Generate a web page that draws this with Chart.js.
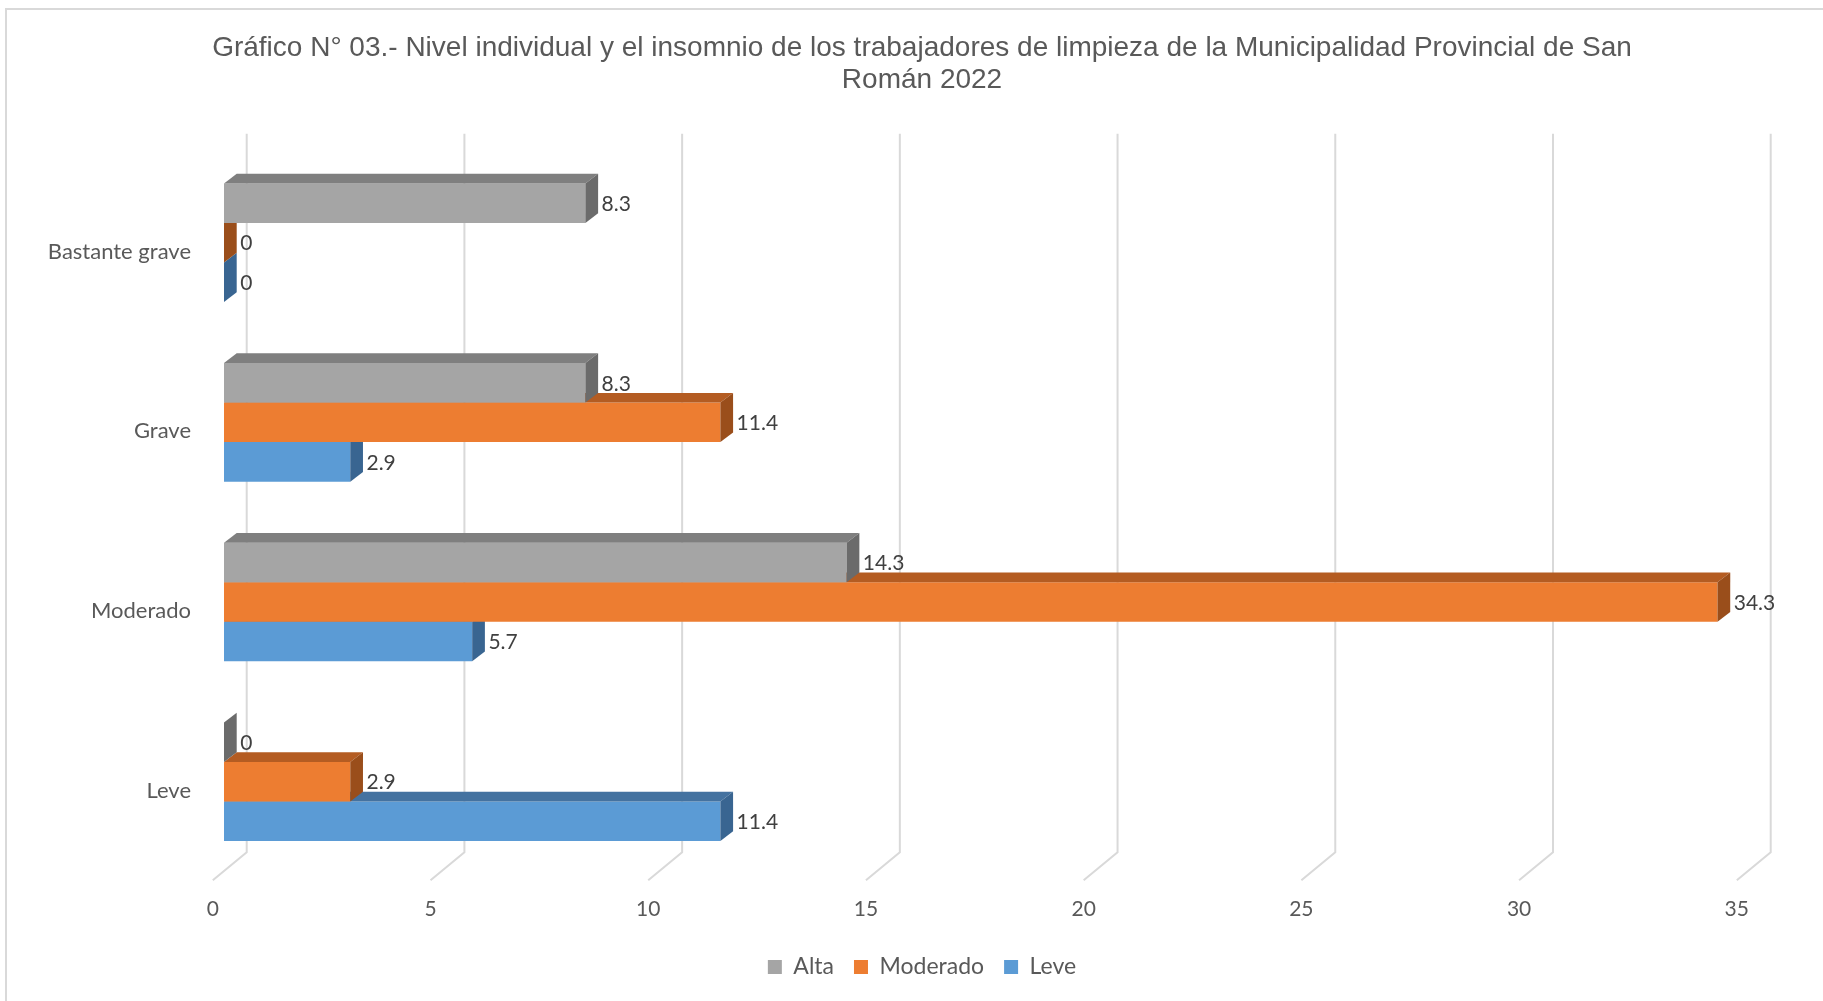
<!DOCTYPE html>
<html>
<head>
<meta charset="utf-8">
<title>Gráfico N° 03</title>
<script src="https://cdn.jsdelivr.net/npm/chart.js@4.4.1/dist/chart.umd.min.js"></script>
<style>
  html, body { margin: 0; padding: 0; background: #fff; }
  #wrap { position: relative; width: 1823px; height: 1001px; }
</style>
</head>
<body>
<div id="wrap"><canvas id="chart" width="1823" height="1001"></canvas></div>
<script>
// ---- data ----
const categories = ["Bastante grave", "Grave", "Moderado", "Leve"];
const seriesNames = ["Alta", "Moderado", "Leve"];
const alta = [8.3, 8.3, 14.3, 0];
const moderado = [0, 11.4, 34.3, 2.9];
const leve = [0, 2.9, 5.7, 11.4];
const xMin = 0, xMax = 35, xStep = 5;
const titleLines = [
  "Gráfico N° 03.- Nivel individual y el insomnio de los trabajadores de limpieza de la Municipalidad Provincial de San",
  "Román 2022"
];

// ---- look ----
const faces = [
  { front: "#a5a5a5", top: "#7f7f7f", side: "#6b6b6b" },
  { front: "#ed7d31", top: "#b45c22", side: "#9a4e1b" },
  { front: "#5b9bd5", top: "#4472a0", side: "#396591" }
];
const BAR_DX = 12.7, BAR_DY = 9.7;   // depth of each bar
const WALL_DX = 22.7;                // back wall, right of bar front
const FLOOR_DX = -11.2;              // front edge of floor, left of bar front
const labelFont = "Lato";
const textGray = "#595959";

Chart.defaults.font.family = labelFont;
Chart.defaults.color = textGray;

/* back wall grid + floor lines, drawn from the x scale ticks */
const wallPlugin = {
  id: "wall3d",
  beforeDraw(chart) {
    const ctx = chart.ctx;
    ctx.save();
    ctx.fillStyle = "#d9d9d9";
    ctx.fillRect(5, 8, chart.width - 5, 2);
    ctx.fillRect(5, 8, 2, chart.height - 8);
    ctx.restore();
  },
  beforeDatasetsDraw(chart) {
    const { ctx, chartArea, scales: { x } } = chart;
    ctx.save();
    ctx.strokeStyle = "#d9d9d9";
    ctx.lineWidth = 2;
    x.ticks.forEach(t => {
      const px = x.getPixelForValue(t.value);
      ctx.beginPath();
      ctx.moveTo(px + WALL_DX, chartArea.top - 19);
      ctx.lineTo(px + WALL_DX, chartArea.bottom - 19.3);
      ctx.lineTo(px + FLOOR_DX, chartArea.bottom + 8.7);
      ctx.stroke();
    });
    ctx.restore();
  }
};

/* top and side faces of every bar, plus the value labels */
const barPlugin = {
  id: "bar3d",
  afterDatasetDraw(chart, args) {
    const ctx = chart.ctx;
    const f = faces[args.index];
    args.meta.data.forEach(bar => {
      const { x, y, base, height } = bar.getProps(["x", "y", "base", "height"], true);
      const top = y - height / 2, bottom = y + height / 2;
      ctx.save();
      ctx.fillStyle = f.top;
      ctx.beginPath();
      ctx.moveTo(base, top);
      ctx.lineTo(base + BAR_DX, top - BAR_DY);
      ctx.lineTo(x + BAR_DX, top - BAR_DY);
      ctx.lineTo(x, top);
      ctx.closePath();
      ctx.fill();
      ctx.fillStyle = f.side;
      ctx.beginPath();
      ctx.moveTo(x, top);
      ctx.lineTo(x + BAR_DX, top - BAR_DY);
      ctx.lineTo(x + BAR_DX, bottom - BAR_DY);
      ctx.lineTo(x, bottom);
      ctx.closePath();
      ctx.fill();
      ctx.restore();
    });
  },
  afterDatasetsDraw(chart) {
    const ctx = chart.ctx;
    ctx.save();
    ctx.font = "21px " + labelFont;
    ctx.fillStyle = "#404040";
    ctx.textAlign = "left";
    ctx.textBaseline = "middle";
    chart.data.datasets.forEach((ds, i) => {
      chart.getDatasetMeta(i).data.forEach((bar, j) => {
        ctx.fillText(String(ds.data[j]), bar.x + BAR_DX + 3.5, bar.y + 1);
      });
    });
    ctx.restore();
  }
};

const ctx = document.getElementById("chart").getContext("2d");

new Chart(ctx, {
  type: "bar",
  data: {
    labels: categories,
    datasets: [alta, moderado, leve].map((vals, i) => ({
      label: seriesNames[i],
      data: vals,
      backgroundColor: faces[i].front,
      borderWidth: 0,
      categoryPercentage: 0.66,
      barPercentage: 1
    }))
  },
  options: {
    indexAxis: "y",
    responsive: false,
    animation: false,
    layout: { padding: { left: 21, right: 0, top: 0, bottom: 12.5 } },
    plugins: {
      title: {
        display: true,
        text: titleLines,
        color: textGray,
        font: { family: "Liberation Sans", size: 28, weight: "normal", lineHeight: 1.16 },
        padding: { top: 32, bottom: 55.9 }
      },
      legend: {
        position: "bottom",
        labels: {
          boxWidth: 14,
          boxHeight: 14,
          padding: 20,
          color: textGray,
          font: { size: 23 }
        }
      },
      tooltip: { enabled: false }
    },
    scales: {
      x: {
        min: xMin,
        max: xMax,
        ticks: { stepSize: xStep, padding: 25, labelOffset: FLOOR_DX, color: textGray, font: { size: 21 } },
        grid: { display: false, drawTicks: false },
        border: { display: false },
        afterFit: s => { s.height = 64; }
      },
      y: {
        ticks: { padding: 33, labelOffset: 9, color: textGray, font: { size: 22 } },
        grid: { display: false, drawTicks: false },
        border: { display: false },
        afterFit: s => { s.width = 203; }
      },
      // empty right-hand axis, only keeps room on the right side
      yRight: {
        type: "linear",
        axis: "y",
        position: "right",
        ticks: { display: false },
        grid: { display: false, drawTicks: false },
        border: { display: false },
        afterFit: s => { s.width = 75; }
      }
    }
  },
  plugins: [wallPlugin, barPlugin]
});
</script>
</body>
</html>
